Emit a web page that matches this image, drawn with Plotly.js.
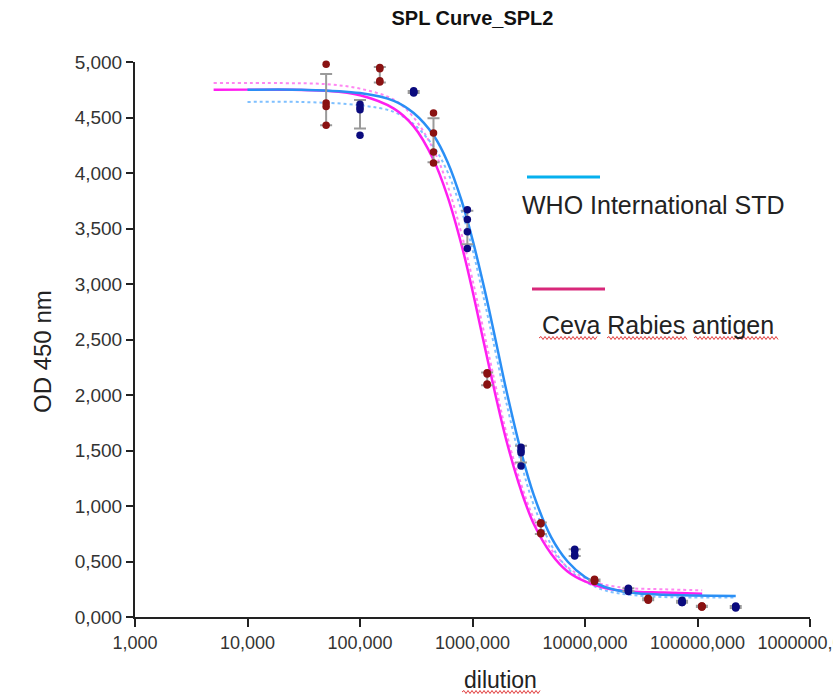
<!DOCTYPE html>
<html>
<head>
<meta charset="utf-8">
<script src="https://cdn.plot.ly/plotly-3.0.1.min.js"></script>
<style>html,body{margin:0;padding:0;background:#fff;}#chart{width:833px;height:695px;}</style>
</head>
<body>
<div id="chart"></div>
<script>
// ---------- DATA ----------
const dilTicks = [1, 10, 100, 1000, 10000, 100000, 1000000];
const dilTickText = ["1,000", "10,000", "100,000", "1000,000", "10000,000", "100000,000", "1000000,000"];
const odTicks = [0, 0.5, 1, 1.5, 2, 2.5, 3, 3.5, 4, 4.5, 5];
const odTickText = ["0,000", "0,500", "1,000", "1,500", "2,000", "2,500", "3,000", "3,500", "4,000", "4,500", "5,000"];

// WHO International STD replicates
const whoDil = [100, 300, 900, 2700, 8100, 24300, 72900, 218700];
const whoOD = [
  [4.62, 4.59, 4.57, 4.34],
  [4.74, 4.73, 4.73, 4.72],
  [3.67, 3.58, 3.47, 3.32],
  [1.53, 1.50, 1.48, 1.36],
  [0.61, 0.60, 0.56, 0.55],
  [0.26, 0.25, 0.24, 0.23],
  [0.15, 0.14, 0.13, 0.13],
  [0.10, 0.09, 0.09, 0.08]
];
// Ceva Rabies antigen replicates
const cevaDil = [50, 150, 450, 1350, 4050, 12150, 36450, 109350];
const cevaOD = [
  [4.98, 4.63, 4.60, 4.43],
  [4.95, 4.94, 4.83, 4.82],
  [4.54, 4.36, 4.19, 4.09],
  [2.20, 2.19, 2.10, 2.09],
  [0.85, 0.84, 0.76, 0.75],
  [0.34, 0.33, 0.33, 0.32],
  [0.17, 0.16, 0.16, 0.15],
  [0.10, 0.10, 0.09, 0.09]
];

// fitted curves
const whoFitX = [10, 30, 100, 200, 300, 450, 600, 800, 1000, 1300, 1600, 2000, 2700, 3500, 5000, 7000, 10000, 15000, 25000, 50000, 218700];
const whoFitY = [4.75, 4.75, 4.72, 4.65, 4.54, 4.34, 4.10, 3.75, 3.40, 2.92, 2.50, 2.04, 1.49, 1.10, 0.72, 0.50, 0.36, 0.27, 0.22, 0.20, 0.19];
const whoFit2Y = [4.64, 4.64, 4.61, 4.55, 4.44, 4.24, 4.01, 3.66, 3.31, 2.81, 2.39, 1.93, 1.39, 1.01, 0.65, 0.44, 0.32, 0.24, 0.20, 0.18, 0.175];

const cevaFitX = [5, 20, 50, 100, 200, 300, 450, 600, 800, 1000, 1250, 1600, 2000, 2700, 3500, 5000, 7000, 10000, 15000, 25000, 50000, 110000];
const cevaFitY = [4.75, 4.75, 4.74, 4.70, 4.58, 4.42, 4.12, 3.79, 3.35, 2.94, 2.49, 2.00, 1.59, 1.14, 0.84, 0.57, 0.41, 0.32, 0.26, 0.23, 0.22, 0.21];
const cevaFit2Y = [4.81, 4.81, 4.80, 4.76, 4.66, 4.50, 4.21, 3.89, 3.45, 3.04, 2.59, 2.09, 1.66, 1.20, 0.89, 0.61, 0.45, 0.35, 0.29, 0.26, 0.25, 0.24];

const seriesNames = ["WHO International STD", "Ceva Rabies antigen"];

// ---------- helpers ----------
function flatten(dil, reps) {
  const x = [], y = [];
  dil.forEach((d, i) => reps[i].forEach(v => { x.push(d); y.push(v); }));
  return {x, y};
}
function meanSd(reps) {
  const m = [], s = [];
  reps.forEach(r => {
    const mu = r.reduce((a, b) => a + b, 0) / r.length;
    const v = r.reduce((a, b) => a + (b - mu) * (b - mu), 0) / (r.length - 1);
    m.push(mu); s.push(Math.sqrt(v));
  });
  return {m, s};
}

const L = 135, R = 23, T = 62, B = 78, W = 833, H = 695;
const PW = W - L - R, PH = H - T - B;
const px = v => (v - L) / PW;
const py = v => (H - B - v) / PH;

function wavy(x0, x1, y) {
  let p = "M" + px(x0) + "," + py(y);
  let up = true;
  for (let x = x0 + 2; x <= x1; x += 2) {
    p += " L" + px(x) + "," + py(y + (up ? -1.5 : 1.5));
    up = !up;
  }
  return {type: "path", xref: "paper", yref: "paper", path: p, line: {color: "#e23b3b", width: 1}};
}

const whoPts = flatten(whoDil, whoOD);
const cevaPts = flatten(cevaDil, cevaOD);
const whoStats = meanSd(whoOD);
const cevaStats = meanSd(cevaOD);

const FONT = "Liberation Sans, Arial, sans-serif";

const traces = [
  {x: cevaFitX, y: cevaFit2Y, mode: "lines", line: {color: "#ff86f2", width: 2, dash: "dot", shape: "spline"}, hoverinfo: "skip", name: seriesNames[1] + " fit 2"},
  {x: whoFitX, y: whoFit2Y, mode: "lines", line: {color: "#7fc0ff", width: 2, dash: "dot", shape: "spline"}, hoverinfo: "skip", name: seriesNames[0] + " fit 2"},
  {x: cevaFitX, y: cevaFitY, mode: "lines", line: {color: "#ff1ef0", width: 2.5, shape: "spline"}, name: seriesNames[1] + " fit"},
  {x: whoFitX, y: whoFitY, mode: "lines", line: {color: "#2a8ff5", width: 2.5, shape: "spline"}, name: seriesNames[0] + " fit"},
  {x: cevaDil, y: cevaStats.m, mode: "markers", marker: {size: 1, opacity: 0}, cliponaxis: false,
   error_y: {type: "data", array: cevaStats.s, visible: true, color: "#9a9a9a", thickness: 2, width: 6}, hoverinfo: "skip"},
  {x: whoDil, y: whoStats.m, mode: "markers", marker: {size: 1, opacity: 0}, cliponaxis: false,
   error_y: {type: "data", array: whoStats.s, visible: true, color: "#9a9a9a", thickness: 2, width: 6}, hoverinfo: "skip"},
  {x: cevaPts.x, y: cevaPts.y, mode: "markers", cliponaxis: false, marker: {color: "#8a1212", size: 7.5}, name: seriesNames[1]},
  {x: whoPts.x, y: whoPts.y, mode: "markers", cliponaxis: false, marker: {color: "#0b0b7e", size: 7.5}, name: seriesNames[0]}
];

const shapes = [
  {type: "line", xref: "paper", yref: "paper", x0: px(527), x1: px(600), y0: py(177), y1: py(177), line: {color: "#06b0ee", width: 3}},
  {type: "line", xref: "paper", yref: "paper", x0: px(532), x1: px(605), y0: py(289), y1: py(289), line: {color: "#d8287a", width: 3}},
  wavy(539, 597, 338), wavy(607, 688, 338), wavy(694, 778, 338),
  wavy(462, 541, 692)
];

const annotations = [
  {text: seriesNames[0], xref: "paper", yref: "paper", x: px(653), y: py(205), xanchor: "center", yanchor: "middle", showarrow: false, font: {family: FONT, size: 25, color: "#222"}},
  {text: seriesNames[1], xref: "paper", yref: "paper", x: px(658), y: py(325), xanchor: "center", yanchor: "middle", showarrow: false, font: {family: FONT, size: 25, color: "#222"}},
  {text: "OD 450 nm", xref: "paper", yref: "paper", x: px(42), y: py(352), xanchor: "center", yanchor: "middle", textangle: -90, showarrow: false, font: {family: FONT, size: 24, color: "#222"}},
  {text: "dilution", xref: "paper", yref: "paper", x: px(500), y: py(680), xanchor: "center", yanchor: "middle", showarrow: false, font: {family: FONT, size: 23, color: "#222"}}
];

const layout = {
  width: W, height: H,
  margin: {l: L, r: R, t: T, b: B},
  paper_bgcolor: "#fff", plot_bgcolor: "#fff",
  showlegend: false,
  font: {family: FONT, color: "#333"},
  title: {text: "<b>SPL Curve_SPL2</b>", font: {family: FONT, size: 20, color: "#111"}, xref: "paper", x: 0.5, xanchor: "center", yref: "container", y: 1 - 18 / H, yanchor: "middle"},
  xaxis: {type: "log", range: [0, 6], tickmode: "array", tickvals: dilTicks, ticktext: dilTickText, ticklabeloverflow: "allow",
          ticks: "outside", ticklen: 8, tickwidth: 2, tickcolor: "#222", showline: true, linewidth: 2, linecolor: "#222",
          showgrid: false, zeroline: false, tickfont: {family: FONT, size: 18, color: "#333"}},
  yaxis: {range: [0, 5], tickmode: "array", tickvals: odTicks, ticktext: odTickText,
          ticks: "outside", ticklen: 7, tickwidth: 2, tickcolor: "#222", showline: true, linewidth: 2, linecolor: "#222",
          showgrid: false, zeroline: false, tickfont: {family: FONT, size: 19, color: "#333"}},
  shapes: shapes,
  annotations: annotations
};

Plotly.newPlot("chart", traces, layout, {staticPlot: true, displayModeBar: false});
</script>
</body>
</html>
